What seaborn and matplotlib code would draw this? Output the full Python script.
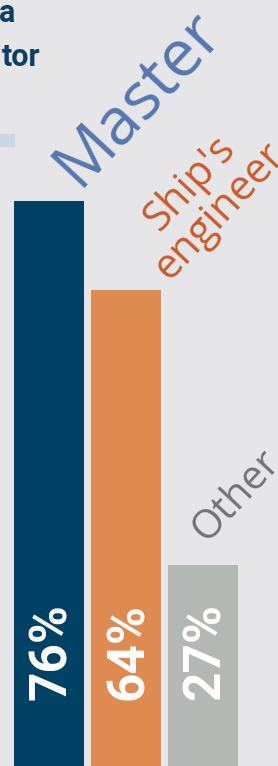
import matplotlib
matplotlib.use("Agg")
import matplotlib.pyplot as plt
import seaborn as sns
from matplotlib.patches import Rectangle

# data
categories = ["Master", "Ship's\nengineer", "Other"]
values = [76, 64, 27]
pct_labels = ["76%", "64%", "27%"]
bar_colors = ["#004166", "#de8a50", "#b4b8b4"]
label_colors = ["#5577b0", "#cc5a2a", "#727272"]

BG = "#e6e6e9"
W, H = 278, 766

sns.set_theme(style="white")
plt.rcParams["font.family"] = ["Open Sans", "DejaVu Sans"]

fig = plt.figure(figsize=(W / 100, H / 100), dpi=100, facecolor=BG)
ax = fig.add_axes([0, 0, 1, 1])
ax.set_facecolor(BG)

sns.barplot(x=list(range(len(values))), y=values, hue=list(range(len(values))),
            palette=bar_colors, width=0.91, saturation=1, legend=False,
            linewidth=0, ax=ax)
ax.set_xlim(-0.636, 2.974)
ax.set_ylim(0, 103)
ax.axis("off")

# value labels inside bars, rotated
for i, lab in enumerate(pct_labels):
    ax.text(i + 0.04, 8.9, lab, rotation=90, rotation_mode="anchor",
            ha="left", va="center", color="white", fontsize=37,
            fontweight="bold", family=["Roboto", "DejaVu Sans"])

# category labels, rotated above bars
ax.text(0.38, 77.8, categories[0], rotation=47, rotation_mode="anchor",
        ha="left", va="baseline", color=label_colors[0], fontsize=47)
ax.text(2.03, 76.5, categories[1], rotation=47, rotation_mode="anchor",
        ha="center", va="center", color=label_colors[1], fontsize=30,
        multialignment="center", linespacing=0.95)
ax.text(2.05, 30.0, categories[2], rotation=47, rotation_mode="anchor",
        ha="left", va="baseline", color=label_colors[2], fontsize=29)

# cut-off title fragments and legend swatch at the left edge
fig.text(15 / W, 1 - 22 / H, "a", ha="right", va="baseline", color="#0d3f62",
         fontsize=22, fontweight="bold", family=["Roboto", "DejaVu Sans"])
fig.text(40 / W, 1 - 66 / H, "tor", ha="right", va="baseline", color="#0d3f62",
         fontsize=22, fontweight="bold", family=["Roboto", "DejaVu Sans"])
fig.patches.append(Rectangle((0, 1 - 146 / H), 14 / W, 12 / H,
                             transform=fig.transFigure, color="#c8d6e6"))

fig.savefig("out.png", dpi=100, facecolor=BG)
